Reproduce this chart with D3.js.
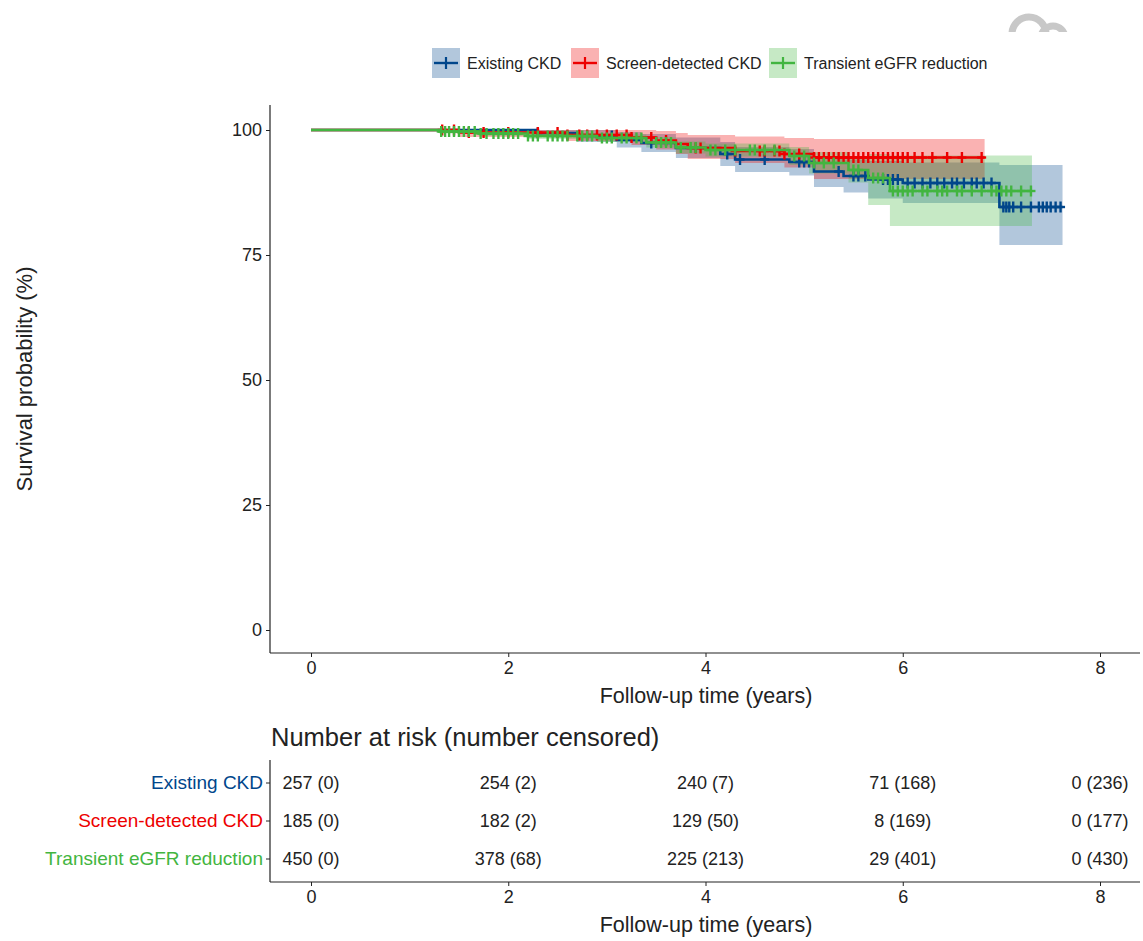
<!DOCTYPE html>
<html>
<head>
<meta charset="utf-8">
<script src="https://cdn.jsdelivr.net/npm/d3@7"></script>
<style>
  body { margin: 0; background: #fff; }
  text { font-family: "Liberation Sans", Arial, sans-serif; }
  .axis path, .axis line { stroke: #222; }
</style>
</head>
<body>
<div id="chart"></div>
<script>
const groups = ["Existing CKD", "Screen-detected CKD", "Transient eGFR reduction"];
const colors = ["#00468B", "#ED0000", "#42B540"];

// Kaplan-Meier steps (years, %)
const existingTime  = [0, 2.3, 2.7, 3.1, 3.35, 3.7, 4.15, 4.3, 4.85, 5.1, 5.4, 5.65, 6.0, 6.98];
const existingSurv  = [100, 99.4, 98.8, 98.0, 97.4, 96.4, 95.2, 94.1, 93.6, 91.7, 90.8, 90.1, 89.4, 84.6];
const existingLower = [100, 98.6, 97.6, 96.5, 95.6, 94.4, 92.8, 91.6, 90.9, 88.6, 87.5, 86.3, 85.4, 77.0];
const existingUpper = [100, 100, 100, 99.6, 99.2, 98.5, 97.6, 96.6, 96.2, 94.8, 94.1, 93.8, 93.5, 93.0];
const existingEnd = 7.62;
const existingCensor = [2.3, 3.05, 3.45, 4.22, 4.35, 4.6, 4.95, 5.0, 5.05, 5.35, 5.5, 5.55, 5.62, 5.8, 5.85, 5.9,
  5.95, 6.05, 6.12, 6.2, 6.28, 6.35, 6.42, 6.5, 6.55, 6.62, 6.7, 6.75, 6.82, 6.9, 7.02, 7.05, 7.08, 7.12, 7.2,
  7.3, 7.38, 7.42, 7.46, 7.5, 7.55, 7.6];

const screenTime  = [0, 1.5, 2.6, 3.25, 3.5, 3.7, 3.82, 4.3, 4.8, 5.1];
const screenSurv  = [100, 99.5, 99.0, 98.5, 97.9, 97.2, 96.4, 95.8, 95.2, 94.5];
const screenLower = [100, 98.6, 97.8, 97.0, 96.1, 95.2, 94.2, 93.4, 92.5, 90.2];
const screenUpper = [100, 100, 100, 100, 99.8, 99.4, 99.0, 98.7, 98.4, 98.2];
const screenEnd = 6.83;
const screenCensor = [1.33, 1.45, 1.6, 1.75, 2.0, 2.3, 2.5, 2.6, 2.72, 2.8, 2.9, 3.0, 3.1, 3.2, 3.25, 3.45, 3.6,
  3.9, 3.95, 4.3, 4.55, 4.6, 4.7, 4.75, 4.8, 4.95, 5.1, 5.15, 5.2, 5.25, 5.3, 5.35, 5.4, 5.45, 5.5, 5.55, 5.6,
  5.65, 5.7, 5.75, 5.8, 5.85, 5.9, 5.95, 6.0, 6.05, 6.12, 6.2, 6.3, 6.45, 6.6, 6.8];

const transientTime  = [0, 1.3, 1.7, 2.2, 2.9, 3.4, 3.7, 4.0, 4.85, 5.05, 5.45, 5.65, 5.87];
const transientSurv  = [100, 99.7, 99.3, 98.8, 98.4, 97.5, 96.5, 96.0, 94.8, 93.4, 92.0, 90.4, 87.8];
const transientLower = [100, 99.3, 98.8, 98.2, 97.6, 96.5, 95.3, 94.7, 93.0, 91.3, 89.5, 85.0, 80.8];
const transientUpper = [100, 100, 99.8, 99.4, 99.1, 98.5, 97.7, 97.3, 96.6, 95.6, 94.7, 95.2, 94.9];
const transientEnd = 7.31;
const transientCensor = [1.32, 1.36, 1.4, 1.45, 1.5, 1.55, 1.6, 1.66, 1.72, 1.78, 1.85, 1.9, 1.95, 2.0, 2.05,
  2.1, 2.2, 2.25, 2.3, 2.4, 2.45, 2.5, 2.55, 2.6, 2.7, 2.75, 2.8, 2.85, 2.95, 3.0, 3.05, 3.15, 3.2, 3.3, 3.35,
  3.5, 3.55, 3.6, 3.65, 3.75, 3.85, 3.9, 4.05, 4.1, 4.2, 4.3, 4.45, 4.5, 4.6, 4.7, 4.9, 5.0, 5.1, 5.2, 5.3,
  5.5, 5.55, 5.7, 5.75, 5.8, 5.9, 5.95, 6.0, 6.05, 6.1, 6.2, 6.25, 6.35, 6.4, 6.45, 6.55, 6.6, 6.7, 6.8, 6.9,
  6.95, 7.0, 7.05, 7.1, 7.2, 7.3];

// risk table
const riskTimes = [0, 2, 4, 6, 8];
const existingRisk  = ["257 (0)", "254 (2)", "240 (7)", "71 (168)", "0 (236)"];
const screenRisk    = ["185 (0)", "182 (2)", "129 (50)", "8 (169)", "0 (177)"];
const transientRisk = ["450 (0)", "378 (68)", "225 (213)", "29 (401)", "0 (430)"];

const xTicks = [0, 2, 4, 6, 8];
const yTicks = [0, 25, 50, 75, 100];

const series = [
  { time: existingTime, surv: existingSurv, lower: existingLower, upper: existingUpper, end: existingEnd, censor: existingCensor, risk: existingRisk },
  { time: screenTime, surv: screenSurv, lower: screenLower, upper: screenUpper, end: screenEnd, censor: screenCensor, risk: screenRisk },
  { time: transientTime, surv: transientSurv, lower: transientLower, upper: transientUpper, end: transientEnd, censor: transientCensor, risk: transientRisk }
];

const W = 1143, H = 941;
const svg = d3.select("#chart").append("svg").attr("width", W).attr("height", H);

// faint logo fragment at top right
svg.append("clipPath").attr("id", "logoclip").append("rect").attr("x", 990).attr("y", 0).attr("width", 90).attr("height", 32);
const logo = svg.append("g").attr("clip-path", "url(#logoclip)");
logo.append("circle").attr("cx", 1029).attr("cy", 34).attr("r", 17).attr("fill", "none").attr("stroke", "#c8c8c8").attr("stroke-width", 7);
logo.append("circle").attr("cx", 1053).attr("cy", 38).attr("r", 12).attr("fill", "none").attr("stroke", "#c8c8c8").attr("stroke-width", 7);

const plotL = 270, plotR = 1140, plotT = 105, plotB = 653;
const x = d3.scaleLinear().domain([0, 8]).range([311, 1100]);
const y = d3.scaleLinear().domain([0, 100]).range([630, 130]);

// legend
const legendX = [432, 571, 769];
groups.forEach((g, i) => {
  const lg = svg.append("g").attr("transform", `translate(${legendX[i]},48)`);
  lg.append("rect").attr("width", 28).attr("height", 30).attr("fill", colors[i]).attr("opacity", 0.3);
  lg.append("line").attr("x1", 2).attr("x2", 26).attr("y1", 15).attr("y2", 15).attr("stroke", colors[i]).attr("stroke-width", 2.4);
  lg.append("line").attr("x1", 14).attr("x2", 14).attr("y1", 9).attr("y2", 21).attr("stroke", colors[i]).attr("stroke-width", 2.2);
  lg.append("text").attr("x", 35).attr("y", 21).attr("font-size", 16).attr("fill", "#222").text(g);
});

const plot = svg.append("g");

function stepData(s) {
  const pts = s.time.map((t, i) => ({ t, s: s.surv[i], lo: s.lower[i], hi: s.upper[i] }));
  const last = pts[pts.length - 1];
  pts.push({ t: s.end, s: last.s, lo: last.lo, hi: last.hi });
  return pts;
}

const area = d3.area().curve(d3.curveStepAfter)
  .x(d => x(d.t)).y0(d => y(d.lo)).y1(d => y(d.hi));
const line = d3.line().curve(d3.curveStepAfter)
  .x(d => x(d.t)).y(d => y(d.s));

function survAt(s, t) {
  const i = d3.bisectRight(s.time, t) - 1;
  return s.surv[Math.max(0, i)];
}

series.forEach((s, i) => {
  plot.append("path").datum(stepData(s))
    .attr("d", area).attr("fill", colors[i]).attr("opacity", 0.3);
});
series.forEach((s, i) => {
  plot.append("path").datum(stepData(s)).attr("d", line)
    .attr("fill", "none").attr("stroke", colors[i]).attr("stroke-width", 2.6);
  const cg = plot.append("g").attr("stroke", colors[i]).attr("stroke-width", 2.4);
  s.censor.forEach(t => {
    const cx = x(t), cy = y(survAt(s, t));
    cg.append("line").attr("x1", cx - 4.5).attr("x2", cx + 4.5).attr("y1", cy).attr("y2", cy);
    cg.append("line").attr("x1", cx).attr("x2", cx).attr("y1", cy - 5.5).attr("y2", cy + 5.5);
  });
});

// axes main
const xAxisMain = svg.append("g").attr("class", "axis").attr("transform", `translate(0,${plotB})`)
  .call(d3.axisBottom(x).tickValues(xTicks).tickSize(4).tickPadding(4));
xAxisMain.select(".domain").attr("d", `M${plotL},0H${plotR}`).attr("stroke-width", 1.2);
xAxisMain.selectAll("text").attr("font-size", 18).attr("fill", "#222");

const yAxisMain = svg.append("g").attr("class", "axis").attr("transform", `translate(${plotL},0)`)
  .call(d3.axisLeft(y).tickValues(yTicks).tickSize(4).tickPadding(4));
yAxisMain.select(".domain").attr("d", `M0,${plotT}V${plotB}`).attr("stroke-width", 1.2);
yAxisMain.selectAll("text").attr("font-size", 18).attr("fill", "#222");

svg.append("text").attr("x", 706).attr("y", 703).attr("text-anchor", "middle")
  .attr("font-size", 21.5).attr("fill", "#222").text("Follow-up time (years)");
svg.append("text").attr("transform", "translate(32,379) rotate(-90)").attr("text-anchor", "middle")
  .attr("font-size", 22).attr("fill", "#222").text("Survival probability (%)");

// risk table
svg.append("text").attr("x", 271).attr("y", 746).attr("font-size", 25.5).attr("fill", "#222")
  .text("Number at risk (number censored)");

const tabT = 760, tabB = 882;
const yRisk = d3.scaleBand().domain(groups).range([764, 878]).paddingInner(0).paddingOuter(0);

const rx = svg.append("g").attr("class", "axis").attr("transform", `translate(0,${tabB})`)
  .call(d3.axisBottom(x).tickValues(xTicks).tickSize(4).tickPadding(4));
rx.select(".domain").attr("d", `M${plotL},0H${plotR}`).attr("stroke-width", 1.2);
rx.selectAll("text").attr("font-size", 18).attr("fill", "#222");

const ry = svg.append("g").attr("class", "axis").attr("transform", `translate(${plotL},0)`)
  .call(d3.axisLeft(yRisk).tickSize(4).tickPadding(3));
ry.select(".domain").attr("d", `M0,${tabT}V${tabB}`).attr("stroke-width", 1.2);
ry.selectAll("text").attr("font-size", 19).attr("fill", (d, i) => colors[i]);

series.forEach((s, i) => {
  s.risk.forEach((r, j) => {
    svg.append("text").attr("x", x(riskTimes[j])).attr("y", yRisk(groups[i]) + yRisk.bandwidth() / 2)
      .attr("dy", "0.35em").attr("text-anchor", "middle").attr("font-size", 18).attr("fill", "#222").text(r);
  });
});

svg.append("text").attr("x", 706).attr("y", 932).attr("text-anchor", "middle")
  .attr("font-size", 21.5).attr("fill", "#222").text("Follow-up time (years)");
</script>
</body>
</html>
